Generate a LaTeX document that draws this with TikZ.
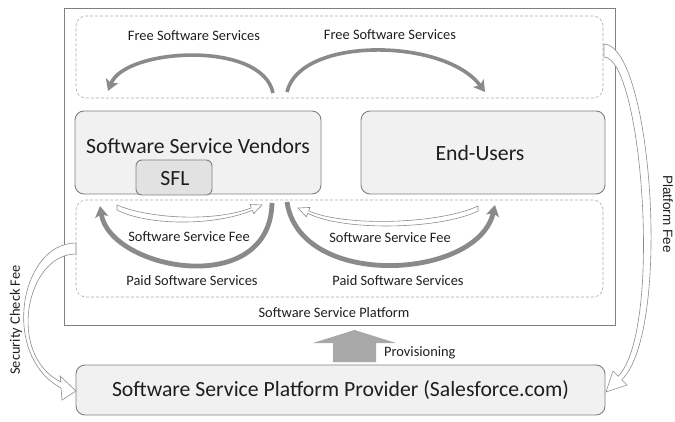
\documentclass[tikz,border=0pt]{standalone}
\usepackage{fontspec}
\setmainfont{Carlito}
\newfontfamily\arialfont{Liberation Sans}
\usetikzlibrary{arrows.meta}

\definecolor{edgegray}{RGB}{128,128,128}
\definecolor{dashgray}{RGB}{170,170,170}
\definecolor{flowgray}{RGB}{138,138,138}
\definecolor{boxfill}{RGB}{241,241,241}
\definecolor{sflfill}{RGB}{226,226,226}
\definecolor{provfill}{RGB}{168,168,168}
\definecolor{txt}{RGB}{30,30,30}
\definecolor{feeline}{RGB}{140,140,140}

\tikzset{
  rolebox/.style={draw=edgegray, line width=0.9pt, rounded corners=9pt, fill=boxfill},
  sflbox/.style={draw=edgegray, line width=0.9pt, rounded corners=6pt, fill=sflfill,
    minimum width=76pt, minimum height=35pt},
  zonebox/.style={draw=dashgray, dashed, dash pattern=on 3pt off 2pt, line width=0.6pt, rounded corners=10pt},
  bigtext/.style={text=txt, font=\fontsize{21.7}{24}\selectfont, inner sep=0pt},
  smalltext/.style={text=txt, font=\fontsize{14.4}{16}\selectfont, inner sep=0pt},
  flow/.style={draw=flowgray, line width=4.2pt, -{Stealth[length=11pt,width=13pt,inset=2.5pt]}},
  thinflow/.style={flow, line width=3.6pt},
  thickflow/.style={flow, line width=4.8pt},
  feearrow/.style={draw=feeline, line width=0.6pt, fill=white, line join=miter},
}

\begin{document}
\begin{tikzpicture}[x=1pt, y=-1pt]
\useasboundingbox (0,0) rectangle (675,422);

% platform frame and its two zones
\draw[draw=edgegray, line width=0.8pt] (64,8) rectangle (615,325);
\node[zonebox, minimum width=527pt, minimum height=82pt] (freezone) at (339.5,57) {};
\node[zonebox, minimum width=527pt, minimum height=97pt] (paidzone) at (339.5,248.5) {};

% participants
\node[rolebox, minimum width=246pt, minimum height=83pt] (vendors) at (198,152.5) {};
\node[bigtext] (vendorslabel) at (198,146) {Software Service Vendors};
\node[sflbox] (sfl) at (174,177.5) {};
\node[bigtext] (sfllabel) at (175,179) {SFL};
\node[rolebox, minimum width=244pt, minimum height=83pt] (endusers) at (483,152.5) {};
\node[bigtext] (enduserslabel) at (480,153) {End-Users};
\node[rolebox, minimum width=529pt, minimum height=50pt] (provider) at (340.5,390) {};
\node[bigtext] (providerlabel) at (340.5,390) {Software Service Platform Provider (Salesforce.com)};

% end points of the service flows
\coordinate (freeL0) at (273,93);  \coordinate (freeL1) at (108,91);
\coordinate (freeR0) at (287,92);  \coordinate (freeR1) at (485,92);
\coordinate (paidL0) at (272,203); \coordinate (paidL1) at (100,206);
\coordinate (paidR0) at (287,202); \coordinate (paidR1) at (495,205);

% free services
\draw[thinflow] (freeL0) .. controls (262,40) and (125,48) .. (freeL1);
\draw[thinflow] (freeR0) .. controls (300,36) and (445,38) .. (freeR1);
% paid services
\draw[thickflow] (paidL0) .. controls (270,300) and (110,270) .. (paidL1);
\draw[thickflow] (paidR0) .. controls (300,290) and (478,280) .. (paidR1);

% service fees (hollow arrows, wide at the tail, narrow at the head)
\draw[feearrow] (117,205) .. controls (150,219) and (215,222) .. (251.3,207.9)
  -- (250,204.5) -- (262,205) -- (253.7,213.7) -- (252.3,210.3)
  .. controls (215,226) and (148,226) .. (117,210) -- cycle;
\draw[feearrow] (478,206) .. controls (440,224) and (345,227) .. (308.7,210.9)
  -- (310.05,207.45) -- (298,208) -- (306.35,216.75) -- (307.7,213.3)
  .. controls (345,232) and (442,229) .. (478,211) -- cycle;

% platform fee
\draw[feearrow] (604,44) .. controls (652,46) and (672,330) .. (621.8,379.8)
  -- (627,385) -- (606,392) -- (613,371) -- (618.2,376.2)
  .. controls (663,330) and (642,58) .. (604,57) -- cycle;
% security check fee
\draw[feearrow] (76,243) .. controls (20,243) and (0,355) .. (61,388)
  -- (62,400) -- (76,391) -- (60,376) -- (61,382)
  .. controls (6,355) and (26,254) .. (76,254) -- cycle;

% provisioning
\fill[provfill] (333,362) -- (333,343) -- (313,343) -- (354.5,330) -- (396,343)
  -- (376,343) -- (376,362) -- cycle;

% labels
\node[smalltext] (freeLtext) at (194,36) {Free Software Services};
\node[smalltext] (freeRtext) at (390,35) {Free Software Services};
\node[smalltext] (feeLtext) at (189,237) {Software Service Fee};
\node[smalltext] (feeRtext) at (390,238) {Software Service Fee};
\node[smalltext] (paidLtext) at (192,281) {Paid Software Services};
\node[smalltext] (paidRtext) at (398,281) {Paid Software Services};
\node[smalltext] (platformtext) at (334,313) {Software Service Platform};
\node[smalltext, anchor=west] (provtext) at (384,353) {Provisioning};
\node[smalltext, rotate=90] (sectext) at (16,320) {Security Check Fee};
\node[text=txt, font=\arialfont\fontsize{13.5}{15}\selectfont, inner sep=0pt, rotate=-90]
  (pftext) at (668,214) {Platform Fee};
\end{tikzpicture}
\end{document}
